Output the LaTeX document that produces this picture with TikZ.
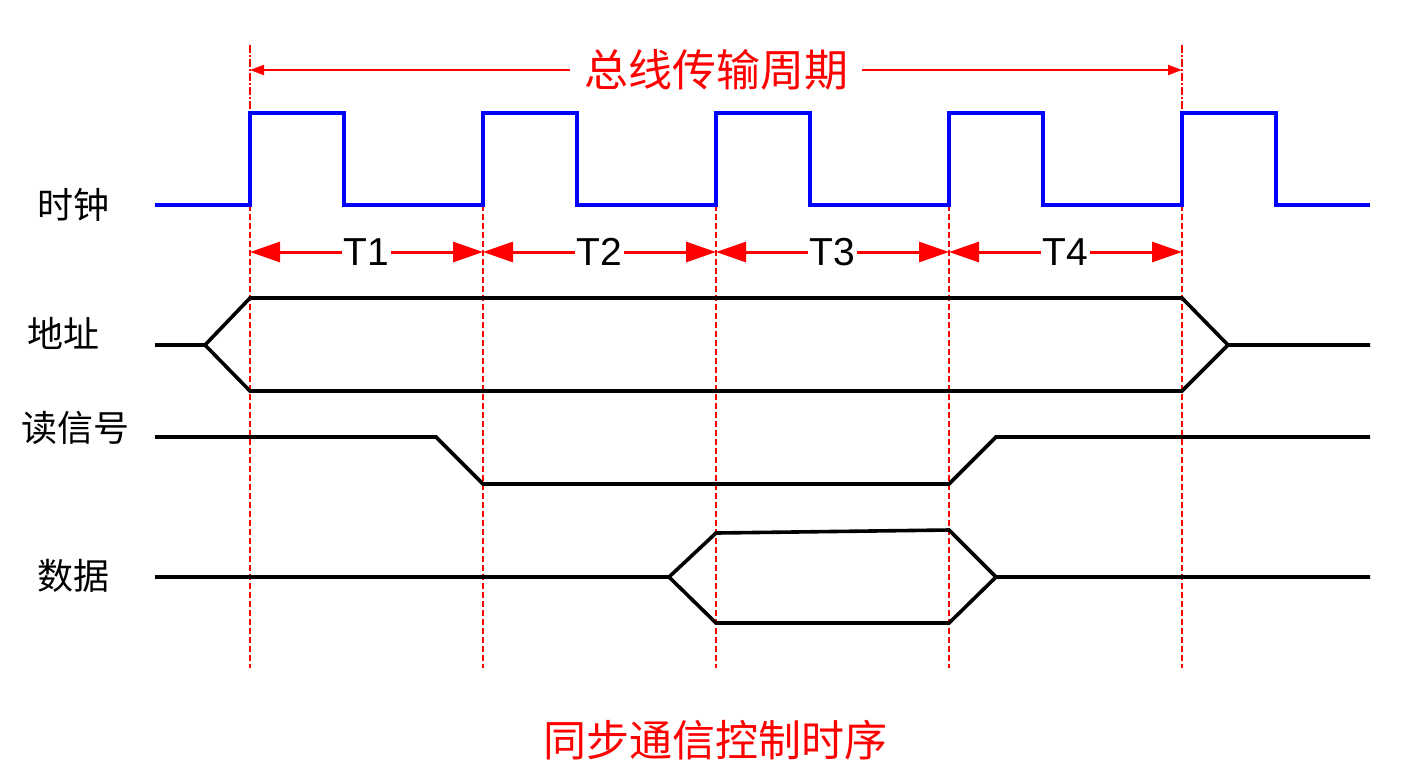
\documentclass[tikz,border=0pt]{standalone}
\usepackage{fontspec}
\setmainfont{Liberation Sans}
\newfontfamily\cjk{Noto Sans CJK SC}
\usepackage{tikz}
\usetikzlibrary{arrows.meta}
\definecolor{sigred}{RGB}{255,0,0}
\definecolor{clkblue}{RGB}{0,0,255}

\tikzset{
  clock/.style={draw=clkblue,line width=2pt},
  wave/.style={draw=black,line width=1.8pt,line join=miter},
  edgeline/.style={draw=sigred,line width=1.1pt,dash pattern=on 3pt off 1.5pt},
  edgetop/.style={draw=sigred,line width=1.1pt,dash pattern=on 4pt off 1pt on 1pt off 1pt},
  tarrow/.style={draw=sigred,line width=1.5pt,{Triangle[length=15pt,width=10pt]}-{Triangle[length=15pt,width=10pt]}},
  period/.style={draw=sigred,line width=1pt,{Triangle[length=7pt,width=5pt]}-{Triangle[length=7pt,width=5pt]}},
  siglabel/.style={font=\cjk\fontsize{18pt}{20pt}\selectfont},
}

\begin{document}
\begin{tikzpicture}[x=0.5pt,y=-0.5pt]
\useasboundingbox (0,0) rectangle (1427,778);

% edges of the clock
\coordinate (e1) at (250,252);
\coordinate (e2) at (483,252);
\coordinate (e3) at (716,252);
\coordinate (e4) at (949,252);
\coordinate (e5) at (1182,252);

% dashed guides
\draw[edgetop] (250,45) -- (250,113);
\draw[edgetop] (1182,45) -- (1182,113);
\foreach \x in {250,483,716,949,1182}
  \draw[edgeline] (\x,205) -- (\x,668);

% bus period
\coordinate (p1) at (250,70);
\coordinate (p2) at (1182,70);
\draw[period] (p1) -- (p2) node[midway,fill=white,inner sep=7pt,text=sigred,font=\cjk\fontsize{22pt}{24pt}\selectfont] (busper) {总线传输周期};

% clock
\draw[clock] (155,205) -- (250,205)
  \foreach \x in {250,483,716,949,1182} {
    -- (\x,205) -- (\x,113) -- (\x+94,113) -- (\x+94,205)
  } -- (1370,205);

% T1..T4
\draw[tarrow] (e1) -- (e2) node[midway,fill=white,inner sep=1pt,font=\fontsize{19.5pt}{21pt}\selectfont] (t1) {T1};
\draw[tarrow] (e2) -- (e3) node[midway,fill=white,inner sep=1pt,font=\fontsize{19.5pt}{21pt}\selectfont] (t2) {T2};
\draw[tarrow] (e3) -- (e4) node[midway,fill=white,inner sep=1pt,font=\fontsize{19.5pt}{21pt}\selectfont] (t3) {T3};
\draw[tarrow] (e4) -- (e5) node[midway,fill=white,inner sep=1pt,font=\fontsize{19.5pt}{21pt}\selectfont] (t4) {T4};

% address
\draw[wave] (155,345) -- (205,345) -- (250,298) -- (1182,298) -- (1228,345) -- (1370,345);
\draw[wave] (205,345) -- (250,391) -- (1182,391) -- (1228,345);

% read
\draw[wave] (155,437) -- (436,437) -- (483,484) -- (949,484) -- (996,437) -- (1370,437);

% data
\draw[wave] (155,577) -- (669,577) -- (716,533) -- (949,530) -- (996,577) -- (1370,577);
\draw[wave] (669,577) -- (716,623) -- (949,623) -- (996,577);

% labels
\node[siglabel] (clk) at (73,205) {时钟};
\node[siglabel] (addr) at (63,333) {地址};
\node[siglabel] (rd) at (75,428) {读信号};
\node[siglabel] (dat) at (73,576) {数据};
\node[text=sigred,font=\cjk\fontsize{21.5pt}{23pt}\selectfont] (title) at (715,740) {同步通信控制时序};
\end{tikzpicture}
\end{document}
